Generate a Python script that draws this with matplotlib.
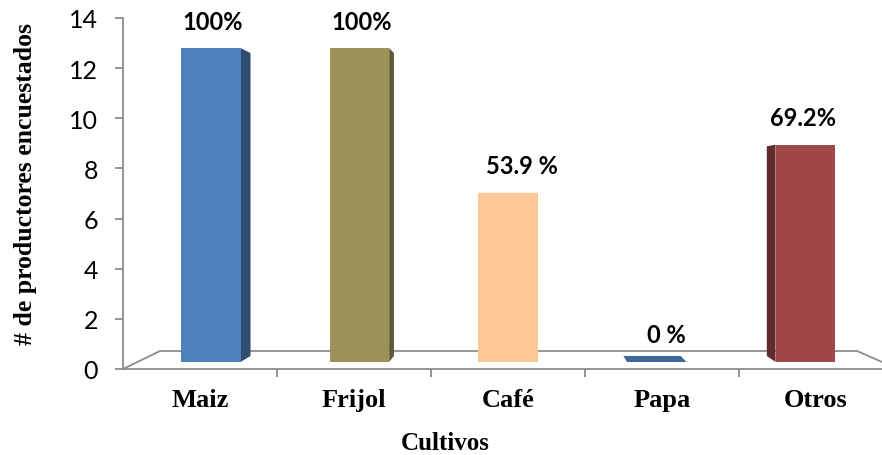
import numpy as np
import matplotlib
matplotlib.use("Agg")
import matplotlib.pyplot as plt
from matplotlib.transforms import Affine2D, IdentityTransform
from matplotlib.patches import Polygon
from matplotlib.colors import to_rgb

cultivos = ["Maiz", "Frijol", "Café", "Papa", "Otros"]
productores = [13, 13, 7, 0, 9]
etiquetas = ["100%", "100%", "53.9 %", "0 %", "69.2%"]
colores = ["#4F81BD", "#9C9258", "#FFC895", "#4F81BD", "#A0474A"]
# small horizontal nudges of the value labels (pixels), as placed in the original
desplaz = [2, 2, 14, 10, -2]

W, H = 882, 456
fig = plt.figure(figsize=(W / 100, H / 100), dpi=100)
# axes: y axis at x=123 px, zero line at y=370 px, 14 at y=19 px
ax = fig.add_axes([123 / W, (H - 370) / H, (W - 123) / W, (370 - 19) / H])
ax.set_xlim(-0.5, -0.5 + (W - 123) / 154)
ax.set_ylim(0, 14)
ax.set_autoscale_on(False)

gris = "#8C8C8C"
for s in ["top", "right"]:
    ax.spines[s].set_visible(False)
ax.spines["left"].set_color(gris)
ax.spines["bottom"].set_color(gris)
ax.spines["left"].set_linewidth(1.3)
ax.spines["bottom"].set_linewidth(1.3)

ax.set_yticks(range(0, 15, 2))
ax.tick_params(axis="y", colors=gris, length=6, width=1.3, labelcolor="black",
               labelsize=18, pad=12)
for t in ax.get_yticklabels():
    t.set_fontfamily("Lato")

x = np.arange(len(cultivos))
ax.set_xticks(x)
ax.set_xticklabels(cultivos, fontfamily="Liberation Serif", fontweight="bold", fontsize=19)
ax.tick_params(axis="x", which="major", length=0, pad=14)
ax.set_xticks(x[:-1] + 0.5, minor=True)
ax.tick_params(axis="x", which="minor", length=6, width=1.3, colors=gris)

ax.set_ylabel("# de productores encuestados", fontfamily="Liberation Serif",
              fontweight="bold", fontsize=18.5)
ax.yaxis.set_label_coords((37 - 123) / 759, (370 - 184) / 351)
ax.set_xlabel("Cultivos", fontfamily="Liberation Serif", fontweight="bold",
              fontsize=18)
ax.xaxis.set_label_coords((445 - 123) / 759, (370 - 432) / 351)

# 3D floor
fl = ax.transData.transform((-0.5, 0))
fr = np.array([fl[0] + 775, fl[1]])
bl = fl + np.array([37, 18])
br = fr + np.array([-41, 18])
floor = np.array([fl, bl, br, fr])
ax.plot(floor[:, 0], floor[:, 1], color=gris, lw=1.3, transform=IdentityTransform(),
        clip_on=False, zorder=1)

# bars sit in the middle of the depth, slightly smaller than the front scale
y0 = ax.transData.transform((0, 0))[1]
cx = 510
bar_tr = ax.transData + Affine2D().translate(-cx, -y0).scale(0.965, 0.963).translate(cx, y0 + 7)

ancho = 0.40
bars = ax.bar(x, productores, ancho, color=colores, transform=bar_tr, zorder=3,
              linewidth=0)

vp = np.array([525, H - 190])
f = 0.035
for b, c in zip(bars, colores):
    x0, yb = b.get_x(), b.get_y()
    x1, yt = x0 + b.get_width(), yb + b.get_height()
    p = bar_tr.transform([(x0, yb), (x1, yb), (x1, yt), (x0, yt)])
    rgb = np.array(to_rgb(c))
    # side face
    if p[0, 0] + p[1, 0] < 2 * vp[0]:
        e = [p[1], p[2]]
    else:
        e = [p[0], p[3]]
    side = [e[0], e[1], e[1] + f * (vp - e[1]), e[0] + f * (vp - e[0])]
    ax.add_patch(Polygon(side, closed=True, facecolor=rgb * 0.6, edgecolor="none",
                         transform=IdentityTransform(), zorder=2))
    # top face (only visible below eye level)
    if p[2, 1] < vp[1]:
        top = [p[3], p[2], p[2] + f * (vp - p[2]), p[3] + f * (vp - p[3])]
        ax.add_patch(Polygon(top, closed=True, facecolor=rgb * 0.8, edgecolor="none",
                             transform=IdentityTransform(), zorder=4))

for xi, v, lab, dx in zip(x, productores, etiquetas, desplaz):
    ax.annotate(lab, xy=(xi, v), xycoords=bar_tr, xytext=(dx, 27),
                textcoords="offset pixels", ha="center", va="center",
                fontfamily="Lato", fontweight="bold", fontsize=17, zorder=5)

fig.savefig("out.png", dpi=100)
